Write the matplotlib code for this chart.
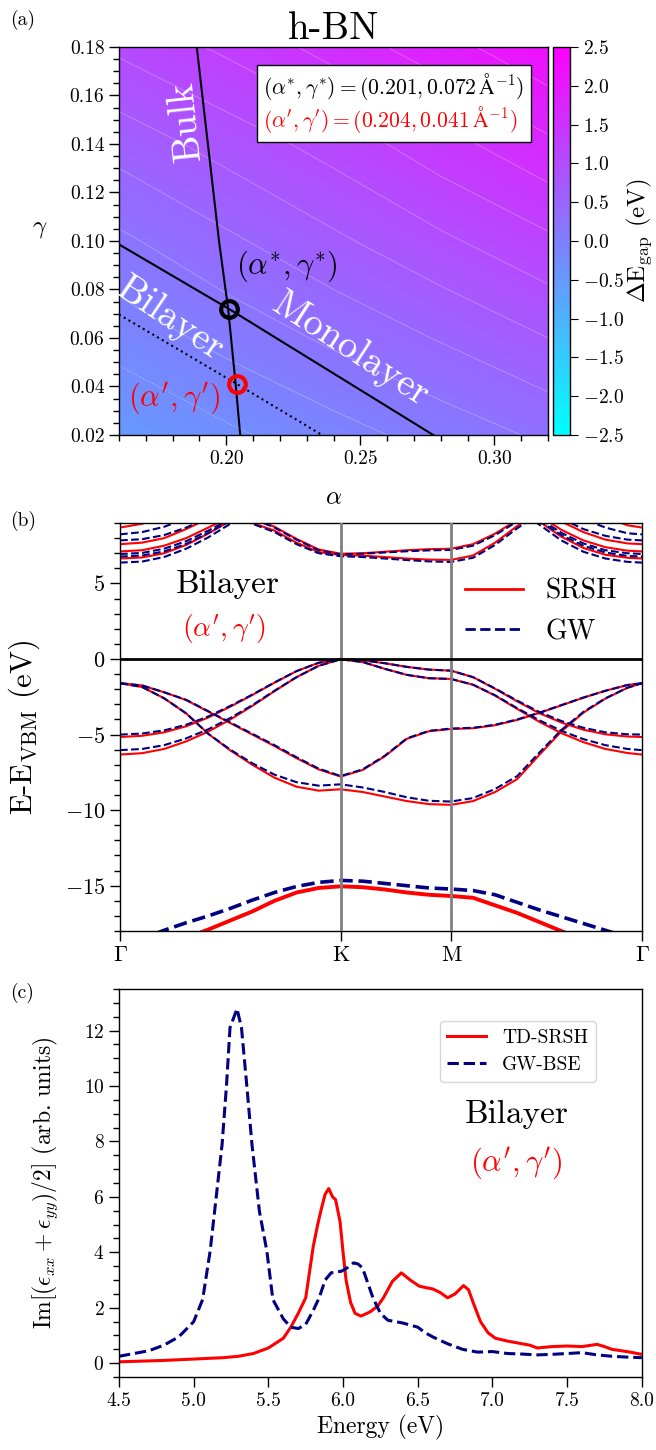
import numpy as np
import matplotlib
matplotlib.use("Agg")
import matplotlib.pyplot as plt
import matplotlib.colors as mcolors
import matplotlib.cm as cm
from matplotlib.ticker import MultipleLocator, FormatStrFormatter
from matplotlib.lines import Line2D

plt.rcParams.update({
    "font.family": "serif",
    "font.serif": ["cmr10"],
    "mathtext.fontset": "cm",
    "axes.formatter.use_mathtext": True,
    "axes.linewidth": 1.0,
})

# ---------------- panel (a): gap difference map ----------------
alpha_grid = [0.16, 0.20, 0.24, 0.28, 0.32]
gamma_grid = [0.02, 0.06, 0.10, 0.14, 0.18]
gap_grid = [
    [-0.50, -0.30, -0.10, 0.10, 0.30],
    [-0.15, 0.08, 0.30, 0.52, 0.75],
    [0.20, 0.45, 0.70, 0.95, 1.20],
    [0.60, 0.85, 1.10, 1.40, 1.70],
    [1.05, 1.30, 1.60, 1.90, 2.20],
]

bulk_alpha = [0.1890, 0.1973, 0.2007, 0.2035, 0.2052]
bulk_gamma = [0.18, 0.10, 0.072, 0.041, 0.02]
mono_alpha = [0.16, 0.201, 0.2772]
mono_gamma = [0.0986, 0.072, 0.02]
bi_alpha = [0.16, 0.204, 0.2357]
bi_gamma = [0.0697, 0.041, 0.02]

opt_star = (0.201, 0.072)
opt_prime = (0.204, 0.041)

# ---------------- panel (b): band structure ----------------
k_path = [0.0, 0.1, 0.2, 0.3, 0.4, 0.5, 0.6, 0.7, 0.8, 0.9, 1.0, 1.1, 1.2,
          1.3, 1.4, 1.5, 1.6, 1.7, 1.8, 1.9, 2.0, 2.1, 2.2, 2.3, 2.366]
k_ticks = [0.0, 1.0, 1.5, 2.366]
k_labels = [r"$\Gamma$", "K", "M", r"$\Gamma$"]

gw_pi1 = [-5.0, -4.93, -4.72, -4.35, -3.8, -3.1, -2.35, -1.55, -0.8, -0.25, 0.0, -0.08, -0.28,
          -0.52, -0.7, -0.77, -1.2, -1.95, -2.75, -3.5, -4.1, -4.55, -4.85, -4.98, -5.0]
gw_pi2 = [-6.03, -5.95, -5.7, -5.25, -4.65, -3.9, -3.05, -2.1, -1.2, -0.45, -0.02, -0.2, -0.65,
          -1.05, -1.27, -1.32, -1.7, -2.4, -3.25, -4.05, -4.75, -5.3, -5.7, -5.95, -6.03]
gw_sig_a = [-1.6, -1.75, -2.2, -2.7, -3.45, -4.2, -4.95, -5.7, -6.5, -7.25, -7.74, -7.3, -6.4,
            -5.25, -4.75, -4.6, -4.55, -4.35, -4.0, -3.55, -3.05, -2.55, -2.1, -1.72, -1.6]
gw_sig_b = [-1.6, -1.85, -2.6, -3.6, -4.95, -6.0, -6.9, -7.65, -8.15, -8.38, -8.29, -8.5, -8.8,
            -9.15, -9.38, -9.43, -9.2, -8.6, -7.75, -6.2, -4.7, -3.5, -2.6, -1.9, -1.6]
gw_deep = [-19.0, -18.5, -17.95, -17.45, -17.0, -16.5, -15.95, -15.45, -15.05, -14.78, -14.65, -14.7, -14.85,
           -15.0, -15.15, -15.22, -15.32, -15.6, -16.1, -16.6, -17.05, -17.5, -17.95, -18.4, -18.6]
gw_c1 = [12.5, 12.4, 12.0, 11.4, 10.7, 9.95, 9.3, 8.7, 7.9, 7.2, 6.92, 6.97, 7.05,
         7.13, 7.19, 7.22, 7.5, 8.2, 9.1, 10.0, 10.8, 11.5, 12.0, 12.3, 12.4]
gw_c2 = [12.0, 11.9, 11.5, 10.9, 10.2, 9.5, 8.95, 8.4, 7.6, 7.0, 6.8, 6.75, 6.65,
         6.55, 6.46, 6.42, 6.7, 7.55, 8.65, 9.6, 10.4, 11.0, 11.5, 11.8, 11.9]
gw_g1 = [8.25, 8.4, 8.75, 9.3, 10.0, 10.8, 11.6, 12.4, 13, 13, 13, 13, 13,
         13, 13, 13, 13, 12.4, 11.6, 10.8, 10.0, 9.25, 8.7, 8.32, 8.25]
gw_g2 = [7.85, 7.93, 8.2, 8.7, 9.35, 10.1, 10.9, 11.7, 12.5, 13, 13, 13, 13,
         13, 13, 13, 13, 11.8, 11.0, 10.1, 9.3, 8.6, 8.15, 7.9, 7.85]
gw_g3 = [6.95, 7.02, 7.3, 7.8, 8.5, 9.25, 10.1, 10.9, 11.7, 12.5, 13, 13, 13,
         13, 13, 13, 13, 11.2, 10.3, 9.3, 8.35, 7.65, 7.2, 7.0, 6.95]
gw_g4 = [6.78, 6.85, 7.12, 7.62, 8.35, 9.15, 10.0, 10.8, 11.6, 12.4, 13, 13, 13,
         13, 13, 13, 13, 11.0, 10.1, 9.15, 8.2, 7.5, 7.05, 6.82, 6.78]
gw_g5 = [6.38, 6.45, 6.75, 7.3, 8.05, 8.95, 9.9, 10.8, 11.6, 12.4, 13, 13, 13,
         13, 13, 13, 13, 11.0, 10.0, 8.9, 7.85, 7.1, 6.65, 6.43, 6.38]

srsh_pi1 = [-5.16, -5.08, -4.85, -4.45, -3.87, -3.15, -2.38, -1.57, -0.8, -0.25, 0.0, -0.08, -0.28,
            -0.52, -0.7, -0.77, -1.2, -1.97, -2.8, -3.58, -4.2, -4.68, -4.98, -5.13, -5.16]
srsh_pi2 = [-6.32, -6.23, -5.95, -5.45, -4.8, -4.0, -3.1, -2.13, -1.2, -0.45, -0.02, -0.2, -0.65,
            -1.05, -1.27, -1.32, -1.7, -2.42, -3.3, -4.15, -4.9, -5.5, -5.95, -6.22, -6.32]
srsh_sig_a = [-1.6, -1.75, -2.2, -2.72, -3.48, -4.24, -5.0, -5.76, -6.56, -7.3, -7.78, -7.34, -6.44,
              -5.28, -4.78, -4.63, -4.58, -4.38, -4.03, -3.57, -3.07, -2.56, -2.1, -1.72, -1.6]
srsh_sig_b = [-1.6, -1.85, -2.6, -3.6, -4.95, -6.05, -7.0, -7.85, -8.45, -8.71, -8.62, -8.8, -9.1,
              -9.4, -9.6, -9.65, -9.4, -8.8, -7.95, -6.35, -4.8, -3.55, -2.62, -1.9, -1.6]
srsh_deep = [-20.5, -19.8, -19.1, -18.45, -17.9, -17.3, -16.7, -16.0, -15.45, -15.15, -15.04, -15.1, -15.25,
             -15.45, -15.6, -15.68, -15.8, -16.3, -16.8, -17.4, -18.0, -18.6, -19.1, -19.5, -19.7]
srsh_c1 = [12.6, 12.5, 12.1, 11.5, 10.8, 10.05, 9.35, 8.75, 7.95, 7.25, 6.97, 7.0, 7.1,
           7.2, 7.27, 7.3, 7.6, 8.3, 9.2, 10.1, 10.9, 11.6, 12.1, 12.4, 12.5]
srsh_c2 = [12.1, 12.0, 11.6, 11.0, 10.3, 9.6, 9.0, 8.5, 7.7, 7.08, 6.88, 6.84, 6.75,
           6.65, 6.58, 6.56, 6.85, 7.7, 8.8, 9.75, 10.5, 11.1, 11.6, 11.9, 12.0]
srsh_s1 = [8.7, 8.95, 9.5, 10.3, 11.2, 12.0, 13, 13, 13, 13, 13, 13, 13,
           13, 13, 13, 13, 13, 13, 12.0, 11.0, 10.2, 9.4, 8.85, 8.7]
srsh_s2 = [7.6, 7.7, 8.0, 8.6, 9.3, 10.1, 11.0, 12.0, 13, 13, 13, 13, 13,
           13, 13, 13, 13, 12.0, 11.0, 10.0, 9.1, 8.4, 7.9, 7.65, 7.6]
srsh_s3 = [7.12, 7.2, 7.5, 8.0, 8.7, 9.4, 10.2, 11.0, 12.0, 13, 13, 13, 13,
           13, 13, 13, 13, 11.5, 10.5, 9.5, 8.55, 7.85, 7.4, 7.17, 7.12]
srsh_s4 = [6.65, 6.72, 7.0, 7.55, 8.3, 9.15, 10.0, 10.9, 11.8, 12.6, 13, 13, 13,
           13, 13, 13, 13, 11.2, 10.2, 9.1, 8.1, 7.35, 6.9, 6.7, 6.65]

srsh_bands = [srsh_pi1, srsh_pi2, srsh_sig_a, srsh_sig_b, srsh_c1, srsh_c2,
              srsh_s1, srsh_s2, srsh_s3, srsh_s4]
gw_bands = [gw_pi1, gw_pi2, gw_sig_a, gw_sig_b, gw_c1, gw_c2,
            gw_g1, gw_g2, gw_g3, gw_g4, gw_g5]

# ---------------- panel (c): absorption spectra ----------------
energy_td = [4.5, 4.8, 5.0, 5.2, 5.3, 5.4, 5.5, 5.6, 5.65, 5.7, 5.75, 5.8, 5.83, 5.856, 5.88, 5.904,
             5.93, 5.95, 5.98, 6.0, 6.02, 6.05, 6.08, 6.12, 6.18, 6.23, 6.27, 6.33, 6.39, 6.45,
             6.51, 6.56, 6.6, 6.65, 6.7, 6.75, 6.806, 6.84, 6.87, 6.92, 6.97, 7.02, 7.1, 7.2,
             7.25, 7.3, 7.4, 7.5, 7.6, 7.7, 7.75, 7.8, 7.9, 8.0]
eps_td = [0.05, 0.1, 0.15, 0.2, 0.25, 0.35, 0.55, 0.9, 1.3, 1.8, 2.36, 4.2, 5.0, 5.6, 6.1, 6.3,
          6.0, 5.9, 5.1, 4.0, 3.0, 2.2, 1.8, 1.7, 1.85, 2.05, 2.36, 2.95, 3.26, 3.0,
          2.78, 2.72, 2.68, 2.55, 2.36, 2.5, 2.8, 2.65, 2.2, 1.5, 1.1, 0.9, 0.8, 0.7,
          0.65, 0.55, 0.6, 0.62, 0.6, 0.68, 0.6, 0.5, 0.42, 0.32]

energy_bse = [4.5, 4.7, 4.8, 4.9, 5.0, 5.06, 5.11, 5.14, 5.19, 5.22, 5.243, 5.29, 5.32, 5.355,
              5.39, 5.44, 5.49, 5.53, 5.6, 5.65, 5.7, 5.75, 5.8, 5.84, 5.88, 5.92, 5.99, 6.03,
              6.07, 6.1, 6.13, 6.2, 6.25, 6.3, 6.4, 6.5, 6.55, 6.6, 6.7, 6.8, 6.9, 7.0, 7.1,
              7.2, 7.3, 7.4, 7.5, 7.6, 7.7, 7.8, 7.9, 8.0]
eps_bse = [0.25, 0.45, 0.65, 0.95, 1.5, 2.3, 4.04, 5.48, 7.89, 10.05, 12.1, 12.79, 12.1, 10.05,
           7.9, 5.48, 4.04, 2.3, 1.6, 1.3, 1.25, 1.4, 1.9, 2.36, 3.0, 3.26, 3.32, 3.45,
           3.62, 3.58, 3.44, 2.36, 1.8, 1.55, 1.45, 1.3, 1.1, 0.95, 0.7, 0.5, 0.4, 0.42, 0.35,
           0.33, 0.3, 0.32, 0.35, 0.38, 0.3, 0.25, 0.22, 0.2]

gw_color = "navy"

fig = plt.figure(figsize=(6.56, 14.5), dpi=100)
ax_a = fig.add_axes([0.1814, 0.700, 0.654, 0.2676])
cax = fig.add_axes([0.843, 0.700, 0.026, 0.2676])
ax_b = fig.add_axes([0.183, 0.3579, 0.7957, 0.2814])
ax_c = fig.add_axes([0.1814, 0.0503, 0.797, 0.2676])

# ---- (a)
A, G = np.meshgrid(alpha_grid, gamma_grid)
ax_a.contourf(A, G, gap_grid, levels=np.linspace(-2.5, 2.5, 201), cmap="cool", vmin=-2.5, vmax=2.5)
ax_a.contour(A, G, gap_grid, levels=np.arange(-0.5, 2.3, 0.25), colors="white", linewidths=0.5, alpha=0.35)

ax_a.plot(bulk_alpha, bulk_gamma, color="k", lw=1.5)
ax_a.plot(mono_alpha, mono_gamma, color="k", lw=1.5)
ax_a.plot(bi_alpha, bi_gamma, color="k", lw=1.5, ls=":")
ax_a.plot(*opt_star, marker="o", ms=12, mfc="none", mec="k", mew=3)
ax_a.plot(*opt_prime, marker="o", ms=12, mfc="none", mec="red", mew=3)

ax_a.text(0.1849, 0.1496, "Bulk", color="white", fontsize=28, rotation=96, ha="center", va="center")
ax_a.text(0.2463, 0.0552, "Monolayer", color="white", fontsize=28, rotation=-33, ha="center", va="center")
ax_a.text(0.1792, 0.0676, "Bilayer", color="white", fontsize=28, rotation=-34, ha="center", va="center")
ax_a.text(0.2226, 0.0895, r"$(\alpha^{*},\gamma^{*})$", color="k", fontsize=22, ha="center", va="center")
ax_a.text(0.1804, 0.0353, r"$(\alpha',\gamma')$", color="red", fontsize=22, ha="center", va="center")

box_handles = [Line2D([], [], ls="none"), Line2D([], [], ls="none")]
box_labels = [r"$(\alpha^{*},\gamma^{*})=(0.201,0.072\,\mathrm{\AA}^{-1})$",
              r"$(\alpha',\gamma')=(0.204,0.041\,\mathrm{\AA}^{-1})$"]
leg_a = ax_a.legend(box_handles, box_labels, loc="upper right", bbox_to_anchor=(0.96, 0.954),
                    borderaxespad=0, fancybox=False, edgecolor="k", framealpha=1,
                    handlelength=0, handletextpad=0, fontsize=15.5, labelcolor=["k", "red"],
                    labelspacing=0.1, borderpad=0.3)
leg_a.get_frame().set_linewidth(1.0)

ax_a.set_xlim(0.16, 0.32)
ax_a.set_ylim(0.02, 0.18)
ax_a.xaxis.set_major_locator(MultipleLocator(0.05))
ax_a.xaxis.set_minor_locator(MultipleLocator(0.01))
ax_a.yaxis.set_major_locator(MultipleLocator(0.02))
ax_a.yaxis.set_minor_locator(MultipleLocator(0.005))
ax_a.xaxis.set_major_formatter(FormatStrFormatter("%.2f"))
ax_a.yaxis.set_major_formatter(FormatStrFormatter("%.2f"))
ax_a.set_xlabel(r"$\alpha$", fontsize=18)
ax_a.set_ylabel(r"$\gamma$", fontsize=18, rotation=0)
ax_a.xaxis.set_label_coords(0.5, -0.135)
ax_a.yaxis.set_label_coords(-0.184, 0.503)
ax_a.set_title("h-BN", fontsize=28, pad=4)

sm = cm.ScalarMappable(norm=mcolors.Normalize(-2.5, 2.5), cmap="cool")
cb = fig.colorbar(sm, cax=cax, ticks=np.arange(-2.5, 2.51, 0.5))
cb.set_label(r"$\Delta\mathrm{E}_{\mathrm{gap}}$ (eV)", fontsize=18, labelpad=0)
cb.ax.tick_params(labelsize=14, length=6)

# ---- (b)
for band in srsh_bands:
    ax_b.plot(k_path, band, color="red", lw=1.5)
ax_b.plot(k_path, srsh_deep, color="red", lw=2.8)
for band in gw_bands:
    ax_b.plot(k_path, band, color=gw_color, lw=1.5, ls="--")
ax_b.plot(k_path, gw_deep, color=gw_color, lw=2.6, ls="--")

for kv in k_ticks[1:3]:
    ax_b.axvline(kv, color="grey", lw=2, zorder=3)
ax_b.axhline(0, color="k", lw=2, zorder=3)

ax_b.set_xlim(0, 2.366)
ax_b.set_ylim(-18, 9)
ax_b.set_xticks(k_ticks)
ax_b.set_xticklabels(k_labels)
ax_b.yaxis.set_major_locator(MultipleLocator(5))
ax_b.yaxis.set_minor_locator(MultipleLocator(1))
ax_b.set_ylabel(r"E-E$_{\mathrm{VBM}}$ (eV)", fontsize=22)
ax_b.yaxis.set_label_coords(-0.149, 0.5)

leg_b = ax_b.legend([Line2D([], [], color="red", lw=2), Line2D([], [], color=gw_color, lw=2, ls="--")],
                    ["SRSH", "GW"], loc="upper right", bbox_to_anchor=(1.0, 0.925),
                    frameon=False, fontsize=20, handlelength=2.1)
ax_b.text(0.49, 4.9, "Bilayer", fontsize=24, ha="center", va="center")
ax_b.text(0.47, 2.0, r"$(\alpha',\gamma')$", fontsize=20, color="red", ha="center", va="center")

# ---- (c)
ax_c.plot(energy_td, eps_td, color="red", lw=2.2, label="TD-SRSH")
ax_c.plot(energy_bse, eps_bse, color=gw_color, lw=2.2, ls="--", label="GW-BSE")
ax_c.set_xlim(4.5, 8.0)
ax_c.set_ylim(-0.5, 13.5)
ax_c.xaxis.set_major_locator(MultipleLocator(0.5))
ax_c.xaxis.set_major_formatter(FormatStrFormatter("%.1f"))
ax_c.yaxis.set_major_locator(MultipleLocator(2))
ax_c.yaxis.set_minor_locator(MultipleLocator(0.5))
ax_c.set_xlabel("Energy (eV)", fontsize=17)
ax_c.set_ylabel(r"Im[$(\epsilon_{xx}+\epsilon_{yy})/2$] (arb. units)", fontsize=17)
ax_c.yaxis.set_label_coords(-0.113, 0.5)
ax_c.legend(loc="upper right", bbox_to_anchor=(0.912, 0.918), borderaxespad=0, fontsize=14)
ax_c.text(7.16, 8.98, "Bilayer", fontsize=24, ha="center", va="center")
ax_c.text(7.16, 7.23, r"$(\alpha',\gamma')$", fontsize=22, color="red", ha="center", va="center")

for ax in (ax_a, ax_b, ax_c):
    ax.tick_params(which="major", length=7, width=1, labelsize=14)
    ax.tick_params(which="minor", length=4, width=1)
ax_b.tick_params(which="major", labelsize=16)

fig.text(0.015, 0.986, "(a)", fontsize=14, va="center")
fig.text(0.015, 0.641, "(b)", fontsize=14, va="center")
fig.text(0.015, 0.315, "(c)", fontsize=14, va="center")

fig.savefig("out.png", dpi=100)
